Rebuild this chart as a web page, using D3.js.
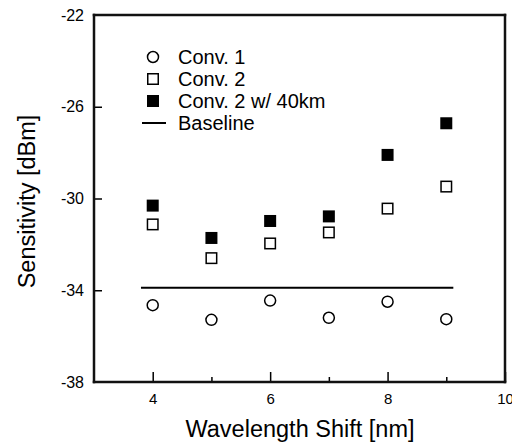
<!DOCTYPE html>
<html>
<head>
<meta charset="utf-8">
<script src="https://cdn.jsdelivr.net/npm/d3@7"></script>
<style>
  body { margin: 0; background: #fff; }
  svg { font-family: "Liberation Sans", Arial, Helvetica, sans-serif; }
</style>
</head>
<body>
<div id="chart"></div>
<script>
// data
const shifts = [4, 5, 6, 7, 8, 9];
const conv1 = [-34.65, -35.29, -34.45, -35.2, -34.5, -35.26];
const conv2 = [-31.13, -32.6, -31.96, -31.48, -30.44, -29.48];
const conv2km = [-30.31, -31.72, -30.98, -30.78, -28.1, -26.72];
const baseline = [[3.8, -33.89], [9.12, -33.89]];
const xTicks = [4, 6, 8, 10];
const xMinor = [5, 7, 9];
const yTicks = [-22, -26, -30, -34, -38];
const legendItems = ["Conv. 1", "Conv. 2", "Conv. 2 w/ 40km", "Baseline"];

const width = 512, height = 446;
const margin = { top: 15, right: 7, bottom: 64, left: 94 };

const svg = d3.select("#chart").append("svg")
  .attr("width", width)
  .attr("height", height);

const x = d3.scaleLinear().domain([3, 10]).range([margin.left, width - margin.right]);
const y = d3.scaleLinear().domain([-38, -22]).range([height - margin.bottom, margin.top]);

// x axis - ticks pointing inward
const xAxis = svg.append("g")
  .attr("transform", `translate(0,${y(-38)})`)
  .call(d3.axisBottom(x).tickValues(xTicks).tickSize(-10).tickPadding(11).tickFormat(d3.format("d")));
xAxis.select(".domain").remove();
xAxis.selectAll("line").attr("stroke-width", 1.5);
xAxis.selectAll("text").style("font-size", "15px").attr("fill", "#000");

svg.append("g")
  .attr("transform", `translate(0,${y(-38)})`)
  .call(d3.axisBottom(x).tickValues(xMinor).tickSize(-5).tickFormat(""))
  .call(g => g.select(".domain").remove())
  .selectAll("line").attr("stroke-width", 1.5);

// y axis
const yAxis = svg.append("g")
  .attr("transform", `translate(${x(3)},0)`)
  .call(d3.axisLeft(y).tickValues(yTicks).tickSize(-8).tickPadding(10).tickFormat(d => d));
yAxis.select(".domain").remove();
yAxis.selectAll("line").attr("stroke-width", 1.5);
yAxis.selectAll("text").style("font-size", "16px").attr("fill", "#000");
yAxis.selectAll(".tick").filter(d => d === -22 || d === -38).select("line").remove();

// frame, one side at a time
const [x0, x1] = x.range();
const [y0, y1] = y.range();
svg.append("g")
  .selectAll("line")
  .data([[x0, y0, x1, y0], [x0, y1, x1, y1], [x0, y0, x0, y1], [x1, y0, x1, y1]])
  .join("line")
  .attr("x1", d => d[0]).attr("y1", d => d[1])
  .attr("x2", d => d[2]).attr("y2", d => d[3])
  .attr("stroke", "#111").attr("stroke-width", 2.5)
  .attr("stroke-linecap", "square");

// baseline
svg.append("path")
  .datum(baseline)
  .attr("d", d3.line().x(d => x(d[0])).y(d => y(d[1])))
  .attr("fill", "none").attr("stroke", "#000").attr("stroke-width", 2);

const sq = 12;

// Conv. 1 circles
svg.append("g").selectAll("circle")
  .data(shifts.map((s, i) => [s, conv1[i]]))
  .join("circle")
  .attr("cx", d => x(d[0])).attr("cy", d => y(d[1])).attr("r", 5.5)
  .attr("fill", "#fff").attr("stroke", "#000").attr("stroke-width", 1.5);

// Conv. 2 open squares
svg.append("g").selectAll("rect")
  .data(shifts.map((s, i) => [s, conv2[i]]))
  .join("rect")
  .attr("x", d => x(d[0]) - sq / 2 + 0.75).attr("y", d => y(d[1]) - sq / 2 + 0.75)
  .attr("width", sq - 1.5).attr("height", sq - 1.5)
  .attr("fill", "#fff").attr("stroke", "#000").attr("stroke-width", 1.5);

// Conv. 2 w/ 40km filled squares
svg.append("g").selectAll("rect")
  .data(shifts.map((s, i) => [s, conv2km[i]]))
  .join("rect")
  .attr("x", d => x(d[0]) - sq / 2).attr("y", d => y(d[1]) - sq / 2)
  .attr("width", sq).attr("height", sq)
  .attr("fill", "#000");

// legend
const lx = 153, ly0 = 57, dy = 22;
const legend = svg.append("g");
legend.append("circle").attr("cx", lx).attr("cy", ly0).attr("r", 5.5)
  .attr("fill", "#fff").attr("stroke", "#000").attr("stroke-width", 1.5);
legend.append("rect").attr("x", lx - 5.25).attr("y", ly0 + dy - 5.25).attr("width", 10.5).attr("height", 10.5)
  .attr("fill", "#fff").attr("stroke", "#000").attr("stroke-width", 1.5);
legend.append("rect").attr("x", lx - 6).attr("y", ly0 + 2 * dy - 6).attr("width", 12).attr("height", 12)
  .attr("fill", "#000");
legend.append("line").attr("x1", lx - 11).attr("x2", lx + 13)
  .attr("y1", ly0 + 3 * dy).attr("y2", ly0 + 3 * dy)
  .attr("stroke", "#000").attr("stroke-width", 2);
legend.selectAll("text")
  .data(legendItems)
  .join("text")
  .attr("x", 178).attr("y", (d, i) => ly0 + i * dy + 7)
  .style("font-size", "20px")
  .text(d => d);

// axis titles
svg.append("text")
  .attr("x", 300).attr("y", 436.5)
  .attr("text-anchor", "middle")
  .style("font-size", "23.5px")
  .text("Wavelength Shift [nm]");

svg.append("text")
  .attr("transform", `translate(35,201.5) rotate(-90)`)
  .attr("text-anchor", "middle")
  .style("font-size", "23.5px")
  .text("Sensitivity [dBm]");
</script>
</body>
</html>
